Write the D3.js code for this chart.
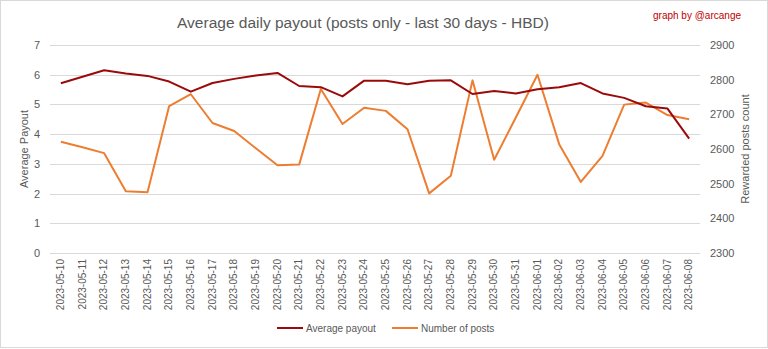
<!DOCTYPE html>
<html><head><meta charset="utf-8">
<script src="https://cdn.jsdelivr.net/npm/d3@7"></script>
<style>body{margin:0;background:#fff}svg{display:block}</style>
</head><body>
<script>
const dates = ["2023-05-10","2023-05-11","2023-05-12","2023-05-13","2023-05-14","2023-05-15","2023-05-16","2023-05-17","2023-05-18","2023-05-19","2023-05-20","2023-05-21","2023-05-22","2023-05-23","2023-05-24","2023-05-25","2023-05-26","2023-05-27","2023-05-28","2023-05-29","2023-05-30","2023-05-31","2023-06-01","2023-06-02","2023-06-03","2023-06-04","2023-06-05","2023-06-06","2023-06-07","2023-06-08"];
const avgPayout = [5.71,5.93,6.15,6.04,5.96,5.77,5.43,5.72,5.86,5.97,6.06,5.62,5.58,5.27,5.80,5.80,5.68,5.80,5.81,5.35,5.45,5.37,5.51,5.58,5.72,5.37,5.22,4.94,4.86,3.85];
const postCount = [2621,2605,2588,2478,2475,2724,2758,2675,2652,2602,2553,2555,2773,2672,2719,2710,2657,2472,2523,2798,2569,2691,2814,2614,2505,2580,2728,2734,2698,2686];
const leftTicks = [0,1,2,3,4,5,6,7];
const rightTicks = [2300,2400,2500,2600,2700,2800,2900];

(function(){
const W=768,H=349;
const pl=50, pr=700, pt=45, pb=253;
const font="'Liberation Sans', Arial, sans-serif";
const svg=d3.select("body").append("svg").attr("width",W).attr("height",H);
svg.append("rect").attr("x",0.5).attr("y",0.5).attr("width",W-1).attr("height",H-2).attr("fill","#fff").attr("stroke","#d9d9d9");

const x=d3.scaleBand().domain(dates).range([pl,pr]);
const yL=d3.scaleLinear().domain([0,7]).range([pb,pt]);
const yR=d3.scaleLinear().domain([2300,2900]).range([pb,pt]);

svg.append("g").selectAll("line").data(leftTicks).join("line")
 .attr("x1",pl).attr("x2",pr).attr("y1",d=>Math.round(yL(d))+0.5).attr("y2",d=>Math.round(yL(d))+0.5)
 .attr("stroke","#d9d9d9").attr("stroke-width",1);

const gL=svg.append("g").attr("transform",`translate(${pl},0)`)
 .call(d3.axisLeft(yL).tickValues(leftTicks).tickFormat(d3.format("d")).tickSize(0).tickPadding(10));
gL.select(".domain").remove();
gL.selectAll("text").attr("font-family",font).attr("font-size",11).attr("fill","#595959");

const gR=svg.append("g").attr("transform",`translate(${pr},0)`)
 .call(d3.axisRight(yR).tickValues(rightTicks).tickFormat(d3.format("d")).tickSize(0).tickPadding(10));
gR.select(".domain").remove();
gR.selectAll("text").attr("font-family",font).attr("font-size",11).attr("fill","#595959");

const gB=svg.append("g").attr("transform",`translate(0,${pb})`)
 .call(d3.axisBottom(x).tickSize(0).tickPadding(0));
gB.select(".domain").remove();
gB.selectAll("text").attr("font-family",font).attr("font-size",10).attr("fill","#595959")
 .attr("transform","rotate(-90)").attr("text-anchor","end").attr("x",-6).attr("y",0).attr("dy","0.33em");

const cx=d=>x(d)+x.bandwidth()/2;
svg.append("path").datum(postCount.map((v,i)=>[dates[i],v]))
 .attr("fill","none").attr("stroke","#ED7D31").attr("stroke-width",2).attr("stroke-linejoin","round")
 .attr("d",d3.line().x(d=>cx(d[0])).y(d=>yR(d[1])));
svg.append("path").datum(avgPayout.map((v,i)=>[dates[i],v]))
 .attr("fill","none").attr("stroke","#9b0a0a").attr("stroke-width",2).attr("stroke-linejoin","round")
 .attr("d",d3.line().x(d=>cx(d[0])).y(d=>yL(d[1])));

svg.append("text").attr("x",363).attr("y",28).attr("text-anchor","middle").attr("font-family",font)
 .attr("font-size",15.5).attr("fill","#595959").text("Average daily payout (posts only - last 30 days - HBD)");
svg.append("text").attr("x",741).attr("y",19).attr("text-anchor","end").attr("font-family",font)
 .attr("font-size",10).attr("fill","#c00000").text("graph by @arcange");
svg.append("text").attr("transform","translate(28,149) rotate(-90)").attr("text-anchor","middle").attr("font-family",font)
 .attr("font-size",11).attr("fill","#595959").text("Average Payout");
svg.append("text").attr("transform","translate(749,149) rotate(-90)").attr("text-anchor","middle").attr("font-family",font)
 .attr("font-size",11).attr("fill","#595959").text("Rewarded posts count");

const legend=[{name:"Average payout",color:"#9b0a0a",x:277},{name:"Number of posts",color:"#ED7D31",x:392}];
const lg=svg.append("g").selectAll("g").data(legend).join("g").attr("transform",d=>`translate(${d.x},328)`);
lg.append("line").attr("x1",0).attr("x2",26).attr("y1",0).attr("y2",0).attr("stroke",d=>d.color).attr("stroke-width",2);
lg.append("text").attr("x",29).attr("y",4).attr("font-family",font).attr("font-size",10).attr("fill","#595959").text(d=>d.name);
})();
</script>
</body></html>
